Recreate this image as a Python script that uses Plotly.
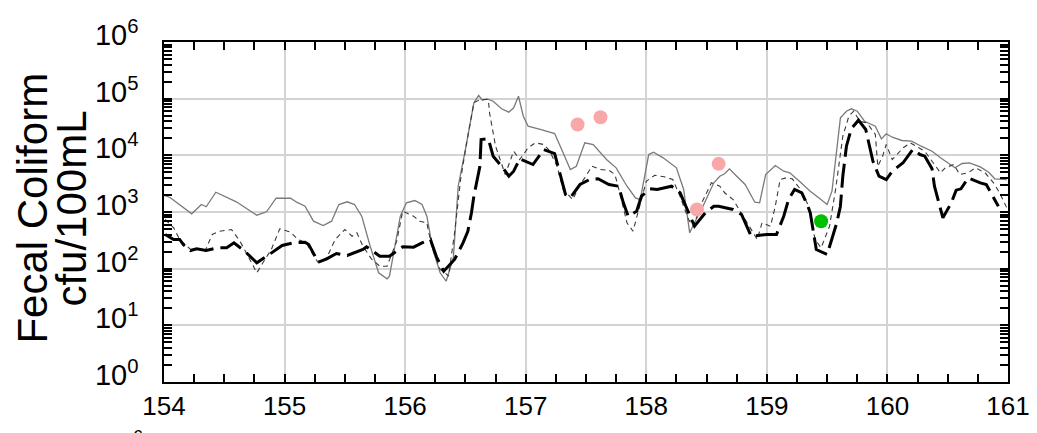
import numpy as np
import plotly.graph_objects as go

# ---- data (x in days, values as log10 cfu/100mL) ----
gray_x = [154.00, 154.05, 154.23, 154.31, 154.35, 154.43, 154.60, 154.70, 154.77, 154.85,
          154.93, 155.05, 155.10, 155.17, 155.24, 155.32, 155.39, 155.45, 155.52, 155.58,
          155.64, 155.71, 155.78, 155.85, 155.87, 155.96, 156.01, 156.08, 156.14, 156.18,
          156.23, 156.29, 156.34, 156.40, 156.44, 156.50, 156.57, 156.61, 156.64, 156.68,
          156.73, 156.80, 156.86, 156.90, 156.94, 156.98, 157.02, 157.12, 157.24, 157.31,
          157.37, 157.42, 157.49, 157.56, 157.67, 157.75, 157.84, 157.91, 157.95, 158.02,
          158.06, 158.14, 158.25, 158.31, 158.36, 158.40, 158.47, 158.56, 158.61, 158.65,
          158.69, 158.75, 158.82, 158.90, 158.94, 158.99, 159.07, 159.14, 159.19, 159.27,
          159.36, 159.43, 159.50, 159.54, 159.57, 159.61, 159.66, 159.70, 159.75, 159.81,
          159.90, 159.95, 159.99, 160.04, 160.12, 160.20, 160.28, 160.37, 160.44, 160.50,
          160.56, 160.62, 160.68, 160.77, 160.84, 160.89, 160.95, 160.99]
gray_log = [3.296, 3.256, 2.968, 3.132, 3.092, 3.349, 3.180, 3.032, 2.943, 3.003,
            3.243, 3.243, 3.173, 3.102, 2.838, 2.762, 2.838, 3.132, 3.180, 3.132,
            2.926, 2.396, 1.927, 1.821, 1.867, 2.926, 3.162, 3.203, 3.132, 2.926,
            2.338, 1.927, 1.779, 2.192, 3.455, 4.103, 4.927, 5.056, 4.973, 4.997,
            4.955, 4.821, 4.761, 4.839, 5.043, 4.690, 4.514, 4.456, 4.385, 4.044,
            3.750, 3.808, 4.221, 4.191, 3.926, 3.780, 3.455, 3.250, 3.220, 4.014,
            4.055, 3.956, 3.780, 3.397, 2.633, 2.809, 3.102, 3.515, 3.632, 3.674,
            3.762, 3.632, 3.485, 3.173, 3.162, 3.662, 3.820, 3.720, 3.692, 3.543,
            3.367, 3.250, 3.132, 3.367, 3.896, 4.662, 4.779, 4.821, 4.779, 4.602,
            4.514, 4.291, 4.380, 4.320, 4.262, 4.249, 4.161, 4.073, 3.956, 3.868,
            3.780, 3.856, 3.868, 3.797, 3.702, 3.586, 3.573, 3.573]

dash_x = [154.01, 154.08, 154.13, 154.22, 154.28, 154.34, 154.40, 154.46, 154.56, 154.63,
          154.70, 154.77, 154.82, 154.89, 154.96, 155.05, 155.11, 155.18, 155.24, 155.28,
          155.35, 155.42, 155.50, 155.56, 155.60, 155.65, 155.72, 155.79, 155.85, 155.93,
          155.98, 156.07, 156.12, 156.18, 156.22, 156.29, 156.33, 156.36, 156.41, 156.46,
          156.51, 156.57, 156.62, 156.69, 156.70, 156.75, 156.83, 156.90, 156.95, 157.02,
          157.08, 157.15, 157.20, 157.26, 157.31, 157.39, 157.45, 157.49, 157.55, 157.62,
          157.69, 157.74, 157.78, 157.84, 157.89, 157.93, 158.00, 158.07, 158.15, 158.22,
          158.28, 158.35, 158.39, 158.46, 158.54, 158.61, 158.65, 158.72, 158.82, 158.92,
          158.96, 159.03, 159.07, 159.11, 159.16, 159.21, 159.28, 159.34, 159.40, 159.45,
          159.52, 159.57, 159.63, 159.68, 159.72, 159.77, 159.83, 159.90, 159.92, 159.96,
          159.99, 160.04, 160.08, 160.13, 160.19, 160.26, 160.31, 160.37, 160.44, 160.48,
          160.55, 160.60, 160.67, 160.73, 160.81, 160.88, 160.93, 160.99]
dash_log = [2.868, 2.721, 2.515, 2.338, 2.350, 2.308, 2.603, 2.661, 2.691, 2.485,
            2.209, 1.927, 2.103, 2.338, 2.703, 2.643, 2.515, 2.456, 2.232, 2.103,
            2.192, 2.515, 2.691, 2.573, 2.633, 2.396, 2.174, 2.043, 2.043, 2.485,
            3.014, 2.926, 2.838, 2.809, 2.396, 1.985, 1.927, 1.867, 2.633, 3.573,
            4.221, 4.927, 4.985, 4.985, 4.750, 4.161, 3.662, 4.073, 3.926, 4.132,
            4.221, 4.191, 4.073, 3.808, 3.397, 3.220, 3.485, 3.603, 3.808, 3.750,
            3.737, 3.662, 3.339, 2.809, 2.661, 2.986, 3.543, 3.649, 3.621, 3.573,
            3.279, 2.868, 2.749, 3.162, 3.515, 3.455, 3.339, 3.220, 2.868, 2.515,
            2.809, 2.749, 3.102, 3.573, 3.603, 3.586, 3.397, 3.132, 2.515, 2.368,
            2.749, 3.397, 4.337, 4.690, 4.779, 4.602, 4.574, 4.367, 3.803, 3.985,
            4.191, 3.926, 4.014, 4.132, 4.221, 4.132, 4.073, 3.896, 3.692, 3.780,
            3.838, 3.662, 3.692, 3.780, 3.692, 3.515, 3.339, 3.074]

black_x = [154.01, 154.08, 154.13, 154.16, 154.22, 154.27, 154.35, 154.44, 154.52, 154.58,
           154.67, 154.77, 154.86, 154.98, 155.07, 155.17, 155.20, 155.28, 155.35, 155.43,
           155.52, 155.65, 155.68, 155.79, 155.87, 155.98, 156.07, 156.14, 156.21, 156.26,
           156.32, 156.41, 156.48, 156.52, 156.55, 156.57, 156.62, 156.63, 156.69, 156.73,
           156.81, 156.86, 156.90, 156.95, 157.06, 157.15, 157.24, 157.27, 157.33, 157.37,
           157.45, 157.53, 157.60, 157.69, 157.77, 157.81, 157.85, 157.92, 157.96, 158.03,
           158.09, 158.21, 158.28, 158.34, 158.40, 158.49, 158.56, 158.60, 158.72, 158.79,
           158.87, 159.00, 159.08, 159.14, 159.18, 159.23, 159.29, 159.34, 159.36, 159.41,
           159.50, 159.58, 159.61, 159.63, 159.66, 159.70, 159.76, 159.82, 159.88, 159.93,
           159.99, 160.04, 160.13, 160.21, 160.27, 160.31, 160.37, 160.39, 160.46, 160.53,
           160.57, 160.61, 160.67, 160.77, 160.82, 160.92]
black_log = [2.603, 2.515, 2.515, 2.426, 2.320, 2.350, 2.320, 2.368, 2.368, 2.456,
             2.308, 2.103, 2.232, 2.409, 2.456, 2.467, 2.426, 2.114, 2.174, 2.268,
             2.232, 2.338, 2.386, 2.220, 2.220, 2.386, 2.379, 2.456, 2.515, 2.209,
             1.955, 2.162, 2.456, 2.661, 2.986, 3.279, 3.808, 4.279, 4.291, 3.985,
             3.780, 3.632, 3.720, 3.938, 3.838, 4.103, 4.032, 3.780, 3.309, 3.250,
             3.485, 3.573, 3.586, 3.485, 3.455, 3.162, 2.926, 3.014, 3.279, 3.409,
             3.397, 3.455, 3.339, 3.044, 2.749, 2.986, 3.102, 3.102, 3.044, 2.956,
             2.573, 2.603, 2.603, 2.926, 3.220, 3.397, 3.339, 3.102, 2.986, 2.338,
             2.250, 2.809, 3.102, 3.632, 4.161, 4.468, 4.620, 4.456, 3.896, 3.632,
             3.573, 3.720, 3.868, 4.103, 4.014, 3.985, 3.762, 3.455, 2.897, 3.162,
             3.385, 3.409, 3.603, 3.515, 3.485, 3.102]

pink_x = [157.43, 157.62, 158.60, 158.42]
pink_log = [4.544, 4.673, 3.850, 3.044]
green_x = [159.45]
green_log = [2.838]

ytick_vals = [1, 10, 100, 1000, 10000, 100000, 1000000]
ytick_text = ["10<sup>0</sup>", "10<sup>1</sup>", "10<sup>2</sup>", "10<sup>3</sup>",
              "10<sup>4</sup>", "10<sup>5</sup>", "10<sup>6</sup>"]
ytick_minor = [m * d for d in [1, 10, 100, 1000, 10000, 100000] for m in range(2, 10)]
xtick_vals = [154, 155, 156, 157, 158, 159, 160, 161]
xtick_text = ["154", "155", "156", "157", "158", "159", "160", "161"]

FONT = "Liberation Sans, Arial, sans-serif"

def lin(v):
    return np.power(10.0, np.array(v))

fig = go.Figure()
fig.add_trace(go.Scatter(x=gray_x, y=lin(gray_log), mode="lines",
                         line=dict(color="#7a7a7a", width=1.3), showlegend=False))
fig.add_trace(go.Scatter(x=dash_x, y=lin(dash_log), mode="lines",
                         line=dict(color="#3a3a3a", width=1.1, dash="5px,4px"), showlegend=False))
fig.add_trace(go.Scatter(x=black_x, y=lin(black_log), mode="lines",
                         line=dict(color="#000000", width=3, dash="24px,7px"), showlegend=False))
fig.add_trace(go.Scatter(x=pink_x, y=lin(pink_log), mode="markers",
                         marker=dict(color="#f9a8aa", size=14), showlegend=False))
# green marker drawn on the overlay axis (identical log scale) so that its minor ticks render
fig.add_trace(go.Scatter(x=green_x, y=lin(green_log), mode="markers", yaxis="y2",
                         marker=dict(color="#00c000", size=14), showlegend=False))

fig.update_layout(
    width=1029, height=425,
    margin=dict(l=156, r=29, t=34, b=51, autoexpand=False),
    plot_bgcolor="white", paper_bgcolor="white",
    font=dict(family=FONT, color="black"),
    xaxis=dict(range=[154, 161], tickvals=xtick_vals, ticktext=xtick_text,
               ticks="inside", ticklen=8, tickwidth=1.5, tickcolor="black",
               showline=True, linecolor="black", linewidth=1.5, mirror="ticks",
               showgrid=True, gridcolor="#d3d3d3", gridwidth=1.5,
               tickfont=dict(size=26, family=FONT), zeroline=False,
               automargin=False, ticklabelstandoff=0,
               minor=dict(dtick=0.25, tick0=154, ticks="inside", ticklen=8,
                          tickwidth=1.5, tickcolor="black", showgrid=False)),
    yaxis=dict(type="log", range=[0, 6], tickvals=ytick_vals, ticktext=ytick_text,
               ticks="inside", ticklen=8, tickwidth=1.5, tickcolor="black",
               showline=True, linecolor="black", linewidth=1.5, mirror="ticks",
               showgrid=True, gridcolor="#d3d3d3", gridwidth=1.5,
               tickfont=dict(size=29, family=FONT), zeroline=False,
               automargin=False, ticklabelshift=-7, ticklabelstandoff=18),
    yaxis2=dict(type="log", range=[0, 6], overlaying="y", side="left",
                tickvals=ytick_minor, showticklabels=False,
                ticks="inside", ticklen=8, tickwidth=1.5, tickcolor="black",
                showline=False, mirror="ticks", showgrid=False, zeroline=False,
                automargin=False),
    annotations=[
        dict(text="Fecal Coliform", xref="paper", yref="paper", x=(33 - 164) / 844, y=0.51,
             xanchor="center", yanchor="middle", textangle=-90, showarrow=False,
             font=dict(size=42, family=FONT, color="black")),
        dict(text="cfu/100mL", xref="paper", yref="paper", x=(72 - 164) / 844, y=0.51,
             xanchor="center", yanchor="middle", textangle=-90, showarrow=False,
             font=dict(size=42, family=FONT, color="black")),
        dict(text="6", xref="paper", yref="paper", x=(138 - 164) / 844, y=(382 - 425) / 340,
             xanchor="center", yanchor="top", showarrow=False,
             font=dict(size=18, family=FONT, color="black")),
    ],
)

fig.write_html("out.html")
